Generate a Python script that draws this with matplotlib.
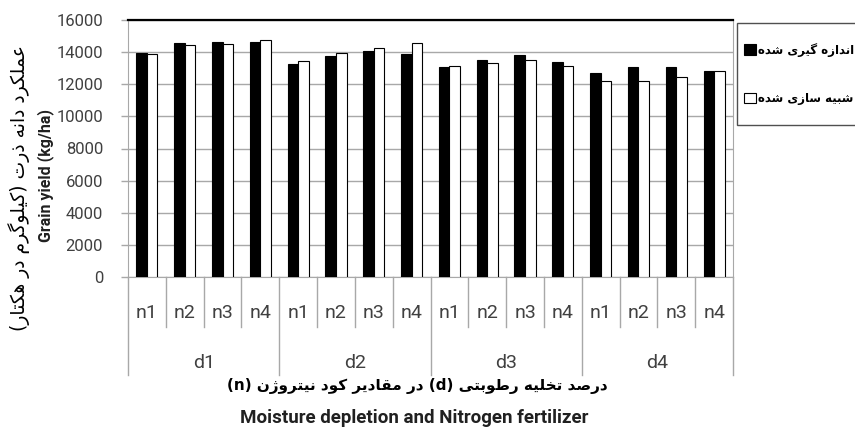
import matplotlib
matplotlib.use("Agg")
import matplotlib.pyplot as plt
from matplotlib.patches import Rectangle

plt.rcParams['font.family'] = ['Roboto', 'DejaVu Sans']

# data
groups = ["d1", "d2", "d3", "d4"]
levels = ["n1", "n2", "n3", "n4"]
measured = [13950, 14550, 14600, 14600,
            13280, 13750, 14100, 13900,
            13100, 13500, 13850, 13380,
            12730, 13080, 13080, 12800]
simulated = [13900, 14450, 14520, 14750,
             13420, 13960, 14270, 14580,
             13150, 13350, 13480, 13150,
             12190, 12230, 12460, 12800]

label_measured = "اندازه گیری شده"
label_simulated = "شبیه سازی شده"
ylabel_fa = "عملکرد دانه ذرت (کیلوگرم در هکتار)"
ylabel_en = "Grain yield (kg/ha)"
xlabel_fa = "درصد تخلیه رطوبتی (d) در مقادیر کود نیتروژن (n)"
xlabel_en = "Moisture depletion and Nitrogen fertilizer"

# matplotlib does no arabic shaping, so pick the presentation forms by hand
DUAL = {'ب': 0xFE8F, 'ت': 0xFE95, 'خ': 0xFEA5, 'س': 0xFEB1, 'ش': 0xFEB5,
        'ص': 0xFEB9, 'ط': 0xFEC1, 'ع': 0xFEC9, 'ق': 0xFED5, 'ل': 0xFEDD,
        'م': 0xFEE1, 'ن': 0xFEE5, 'ه': 0xFEE9, 'ک': 0xFB8E, 'گ': 0xFB92,
        'ی': 0xFBFC}
RIGHT = {'ا': 0xFE8D, 'د': 0xFEA9, 'ذ': 0xFEAB, 'ر': 0xFEAD, 'ز': 0xFEAF,
         'و': 0xFEED, 'ژ': 0xFB8A}


def fa(s):
    s = s.replace('\u064A', '\u06CC').replace('\u0643', '\u06A9')
    out = []
    for i, c in enumerate(s):
        base = DUAL.get(c, RIGHT.get(c))
        if base is None:
            out.append(c)
            continue
        prev = s[i - 1] if i > 0 else ''
        nxt = s[i + 1] if i + 1 < len(s) else ''
        jp = prev in DUAL
        jn = c in DUAL and (nxt in DUAL or nxt in RIGHT)
        off = 3 if (jp and jn) else 1 if jp else 2 if jn else 0
        out.append(chr(base + off))
    vis = ''.join(reversed(out))
    return vis.translate(str.maketrans('()', ')('))


W, H = 855, 430
fig = plt.figure(figsize=(W / 100, H / 100), dpi=100)
ax = fig.add_axes([128 / W, 153 / H, 605 / W, 257 / H])

n = len(measured)
x = list(range(n))
bw = 0.28
b1 = ax.bar([i - bw / 2 for i in x], measured, width=bw, color="black",
            edgecolor="black", linewidth=0.8, zorder=3)
b2 = ax.bar([i + bw / 2 for i in x], simulated, width=bw, color="white",
            edgecolor="black", linewidth=0.8, zorder=3)

ax.set_xlim(-0.5, n - 0.5)
ax.set_ylim(0, 16000)
ax.set_yticks(range(0, 16001, 2000))
ax.yaxis.grid(True, color="#a8a8a8", linewidth=1)
ax.set_axisbelow(True)
ax.set_xticks([])
ax.tick_params(axis="y", length=5, width=1, color="#a8a8a8",
               labelsize=12, labelcolor="#404040", pad=13)
for s in ["left", "right", "bottom"]:
    ax.spines[s].set_color("#a8a8a8")
ax.spines["top"].set_color("black")
ax.spines["top"].set_linewidth(1.6)

# two-level category axis below the plot
tr = ax.get_xaxis_transform()
ax_h = 257.0
for b in range(n + 1):
    depth = 98 if b % len(levels) == 0 else 50
    ax.plot([b - 0.5, b - 0.5], [0, -depth / ax_h], transform=tr,
            color="#a8a8a8", linewidth=1, clip_on=False)
for i in x:
    ax.text(i, -36 / ax_h, levels[i % len(levels)], transform=tr,
            ha="center", va="center", fontsize=14, color="#404040")
for g, name in enumerate(groups):
    c = g * len(levels) + (len(levels) - 1) / 2
    ax.text(c, -86 / ax_h, name, transform=tr, ha="center", va="center",
            fontsize=14, color="#404040")

fig.text(417 / W, 1 - 386 / H, fa(xlabel_fa), ha="center", va="center",
         fontsize=11, fontweight="bold", family=["DejaVu Sans"])
fig.text(414 / W, 1 - 418 / H, xlabel_en, ha="center", va="center",
         fontsize=13.5, fontweight="semibold", color="#202020")
fig.text(19 / W, 1 - 188 / H, fa(ylabel_fa), rotation=90, ha="center",
         va="center", fontsize=13.5, family=["DejaVu Sans"])
fig.text(46 / W, 1 - 176 / H, ylabel_en, rotation=90, ha="center",
         va="center", fontsize=11.5, fontweight="bold", color="#202020")

# legend frame runs past the right edge, as in the reference
fig.patches.append(Rectangle((737 / W, 1 - 125 / H), 130 / W, 102 / H,
                             transform=fig.transFigure, facecolor="white",
                             edgecolor="#505050", linewidth=1))
leg = fig.legend([b1, b2], [fa(label_measured), fa(label_simulated)],
                 loc="center left", bbox_to_anchor=(744 / W, 1 - 74 / H),
                 frameon=False, handlelength=1.0, handleheight=1.0,
                 handletextpad=0.2, labelspacing=3.0, borderpad=0,
                 borderaxespad=0,
                 prop={"family": ["DejaVu Sans"], "weight": "bold",
                       "size": 8.5})

fig.savefig("out.png", dpi=100)
